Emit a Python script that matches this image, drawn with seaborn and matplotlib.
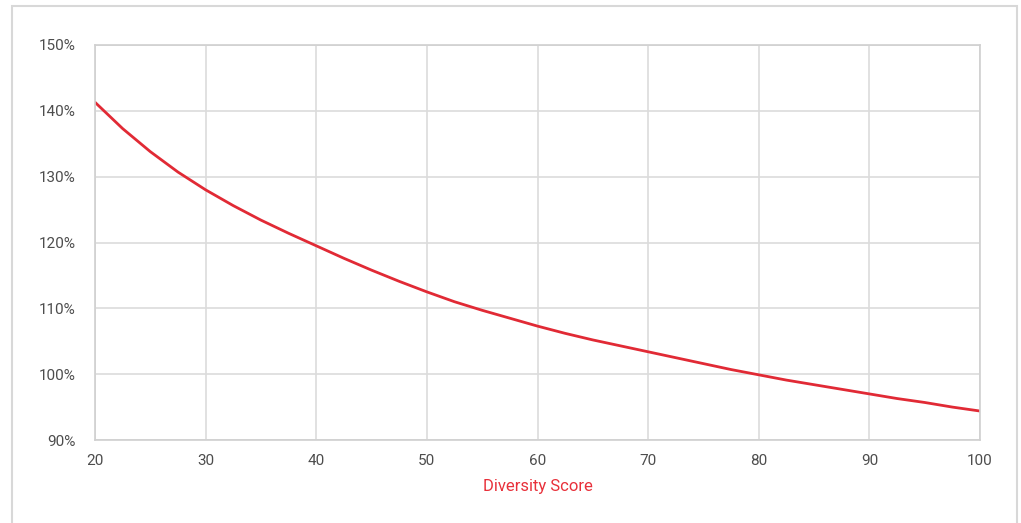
import matplotlib
matplotlib.use("Agg")
import matplotlib.pyplot as plt
import seaborn as sns
import pandas as pd
from matplotlib.patches import Rectangle
from matplotlib import font_manager

diversity_score = [20, 22.5, 25, 27.5, 30, 32.5, 35, 37.5, 40, 42.5, 45, 47.5,
                   50, 52.5, 55, 57.5, 60, 62.5, 65, 67.5, 70, 72.5, 75, 77.5,
                   80, 82.5, 85, 87.5, 90, 92.5, 95, 97.5, 100]
ratio_pct = [141.3, 137.3, 133.8, 130.7, 128.0, 125.6, 123.4, 121.4, 119.5,
             117.6, 115.8, 114.1, 112.5, 111.0, 109.7, 108.5, 107.3, 106.2,
             105.2, 104.3, 103.4, 102.5, 101.6, 100.7, 99.9, 99.1, 98.4, 97.7,
             97.0, 96.3, 95.7, 95.0, 94.4]
x_ticks = [20, 30, 40, 50, 60, 70, 80, 90, 100]
y_ticks = [90, 100, 110, 120, 130, 140, 150]
y_tick_labels = [f"{v}%" for v in y_ticks]
x_label = "Diversity Score"

sns.set_theme(style="whitegrid")
names = {f.name for f in font_manager.fontManager.ttflist}
fam = "Liberation Sans Narrow" if "Liberation Sans Narrow" in names else "Roboto"
plt.rcParams["font.family"] = [fam, "DejaVu Sans"]

df = pd.DataFrame({"score": diversity_score, "pct": ratio_pct})

fig = plt.figure(figsize=(10.21, 5.23), dpi=100)
fig.patch.set_facecolor("white")
ax = fig.add_axes([95/1021, 1-440/523, (980-95)/1021, (440-45)/523])

sns.lineplot(data=df, x="score", y="pct", ax=ax, color="#e12a35", linewidth=2.0)

ax.set_xlim(20, 100)
ax.set_ylim(90, 150)
ax.set_xticks(x_ticks)
ax.set_xticklabels([str(v) for v in x_ticks])
ax.set_yticks(y_ticks)
ax.set_yticklabels(y_tick_labels)
ax.grid(True, color="#dcdcdc", linewidth=1.2)
ax.set_facecolor("white")
for s in ax.spines.values():
    s.set_color("#d0d0d0")
    s.set_linewidth(1.2)
ax.tick_params(axis="both", length=0, labelsize=11, labelcolor="#4d4d4d")
ax.tick_params(axis="x", pad=10)
ax.tick_params(axis="y", pad=14)
ax.set_ylabel("")
ax.set_xlabel(x_label, color="#e8303a", fontsize=12, labelpad=8)

fig.add_artist(Rectangle((12/1021, -0.01), (1017-12)/1021, 1-6/523+0.01,
                         transform=fig.transFigure, fill=False,
                         edgecolor="#d8d8d8", linewidth=1.5))

fig.savefig("out.png", dpi=100)
